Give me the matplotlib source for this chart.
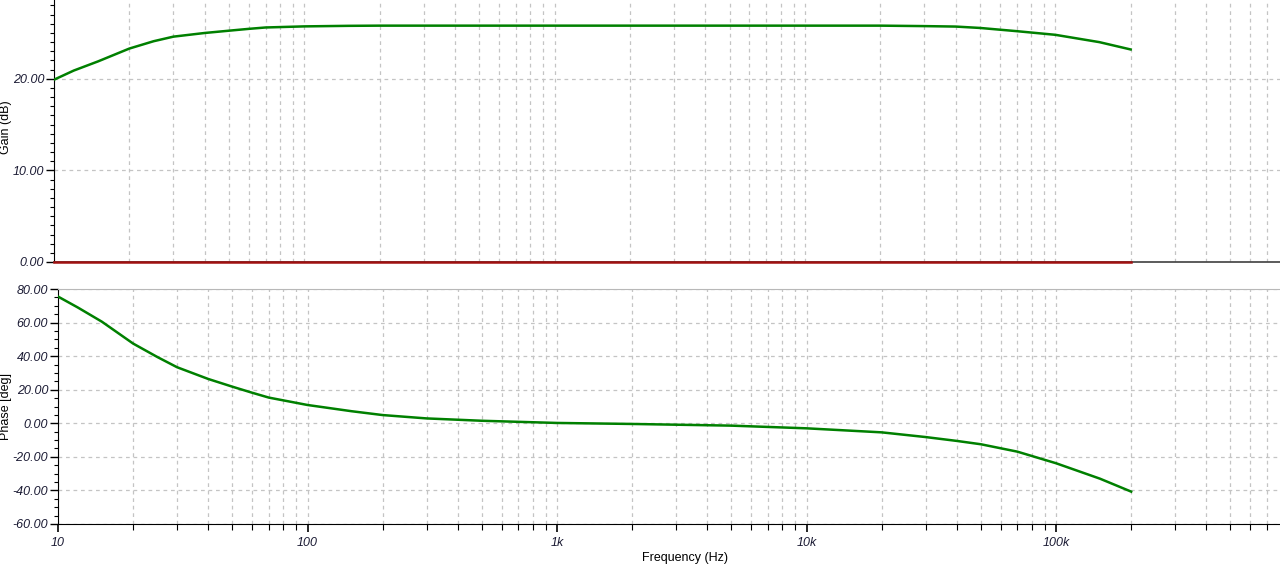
import numpy as np
import matplotlib
matplotlib.use("Agg")
import matplotlib.pyplot as plt
from matplotlib.ticker import FixedLocator, MultipleLocator, NullFormatter

plt.rcParams['font.family'] = ['Liberation Sans', 'DejaVu Sans']

# frequency points (Hz)
freq = [10, 12, 15, 20, 25, 30, 40, 50, 60, 70, 100, 150, 200, 300, 500, 1000, 2000, 5000,
        10000, 20000, 30000, 40000, 50000, 70000, 100000, 150000, 200000]
# gain of the circuit (dB)
gain = [19.9, 20.9, 21.9, 23.3, 24.1, 24.6, 25.0, 25.25, 25.45, 25.6, 25.72, 25.78, 25.8, 25.8,
        25.8, 25.8, 25.8, 25.8, 25.8, 25.8, 25.75, 25.7, 25.55, 25.2, 24.8, 24.0, 23.2]
# second gain trace (flat at 0 dB)
gain_ref = [0.0] * len(freq)
# phase (deg)
phase = [75.5, 69.0, 60.5, 47.5, 39.5, 33.4, 26.4, 21.8, 18.2, 15.3, 10.9, 7.2, 4.9, 2.9,
         1.5, 0.2, -0.4, -1.4, -3.0, -5.4, -8.2, -10.5, -12.5, -16.9, -23.8, -33.0, -40.7]

dec_ticks = [10, 100, 1000, 10000, 100000, 1000000]
dec_labels = ["10", "100", "1k", "10k", "100k", "1M"]

W, H = 1280, 568
fig = plt.figure(figsize=(W / 100, H / 100), dpi=100)

ax1 = fig.add_axes([54 / W, 1 - 262 / H, 1 - 54 / W, 262 / H])
ax2 = fig.add_axes([58 / W, 1 - 524 / H, 1 - 58 / W, 235 / H])

grid_kw = dict(color="#c4c4c4", linestyle=(0, (3, 3)), linewidth=0.9)
tick_col = "#1a1a33"
minor_x = [m * 10 ** e for e in range(1, 6) for m in range(2, 10)]

for ax in (ax1, ax2):
    ax.set_xscale("log")
    ax.set_xlim(10, 7.9e5)
    ax.xaxis.set_major_locator(FixedLocator(dec_ticks))
    ax.xaxis.set_minor_locator(FixedLocator(minor_x))
    ax.xaxis.set_minor_formatter(NullFormatter())
    ax.grid(True, which="major", axis="both", **grid_kw)
    ax.grid(True, which="minor", axis="x", **grid_kw)
    ax.set_axisbelow(True)
    ax.spines["right"].set_visible(False)
    ax.tick_params(axis="y", which="major", direction="out", length=6, width=1,
                   labelsize=9, colors="black", labelcolor=tick_col, pad=1)
    ax.tick_params(axis="y", which="minor", direction="out", length=3, width=0.8)

# gain panel
ax1.plot(freq, gain, color="#008000", linewidth=1.8, zorder=3)
ax1.plot(freq, gain_ref, color="#a01010", linewidth=1.8, zorder=4, clip_on=False)
ax1.set_ylim(0, 28.6)
ax1.yaxis.set_major_locator(FixedLocator([0, 10, 20]))
ax1.yaxis.set_minor_locator(MultipleLocator(1))
ax1.set_yticklabels(["0.00", "10.00", "20.00"], fontstyle="italic")
ax1.spines["top"].set_visible(False)
ax1.spines["bottom"].set_color("#404040")
ax1.spines["bottom"].set_linewidth(1.2)
ax1.spines["left"].set_color("black")
ax1.tick_params(axis="x", which="both", bottom=False, labelbottom=False)

# phase panel
ax2.plot(freq, phase, color="#008000", linewidth=1.8, zorder=3)
ax2.set_ylim(-60, 80)
ax2.yaxis.set_minor_locator(MultipleLocator(5))
ax2.set_yticks(np.arange(-60, 81, 20))
ax2.set_yticklabels(["%.2f" % v for v in np.arange(-60, 81, 20)], fontstyle="italic")
ax2.spines["top"].set_color("#b8b8b8")
ax2.spines["bottom"].set_color("black")
ax2.spines["left"].set_color("black")
ax2.set_xticklabels(dec_labels, fontstyle="italic")
ax2.tick_params(axis="x", which="major", direction="out", length=6, width=1.2,
                labelsize=9, labelcolor=tick_col, pad=3)
ax2.tick_params(axis="x", which="minor", direction="out", length=4, width=0.8)

# axis titles placed where the reference has them
fig.text(6 / W, 1 - 127 / H, "Gain (dB)", fontsize=9, rotation=90, ha="center", va="center")
fig.text(6 / W, 1 - 407 / H, "Phase [deg]", fontsize=9, rotation=90, ha="center", va="center")
fig.text(685 / W, 1 - 558 / H, "Frequency (Hz)", fontsize=9, ha="center", va="center")

fig.savefig("out.png", dpi=100)
